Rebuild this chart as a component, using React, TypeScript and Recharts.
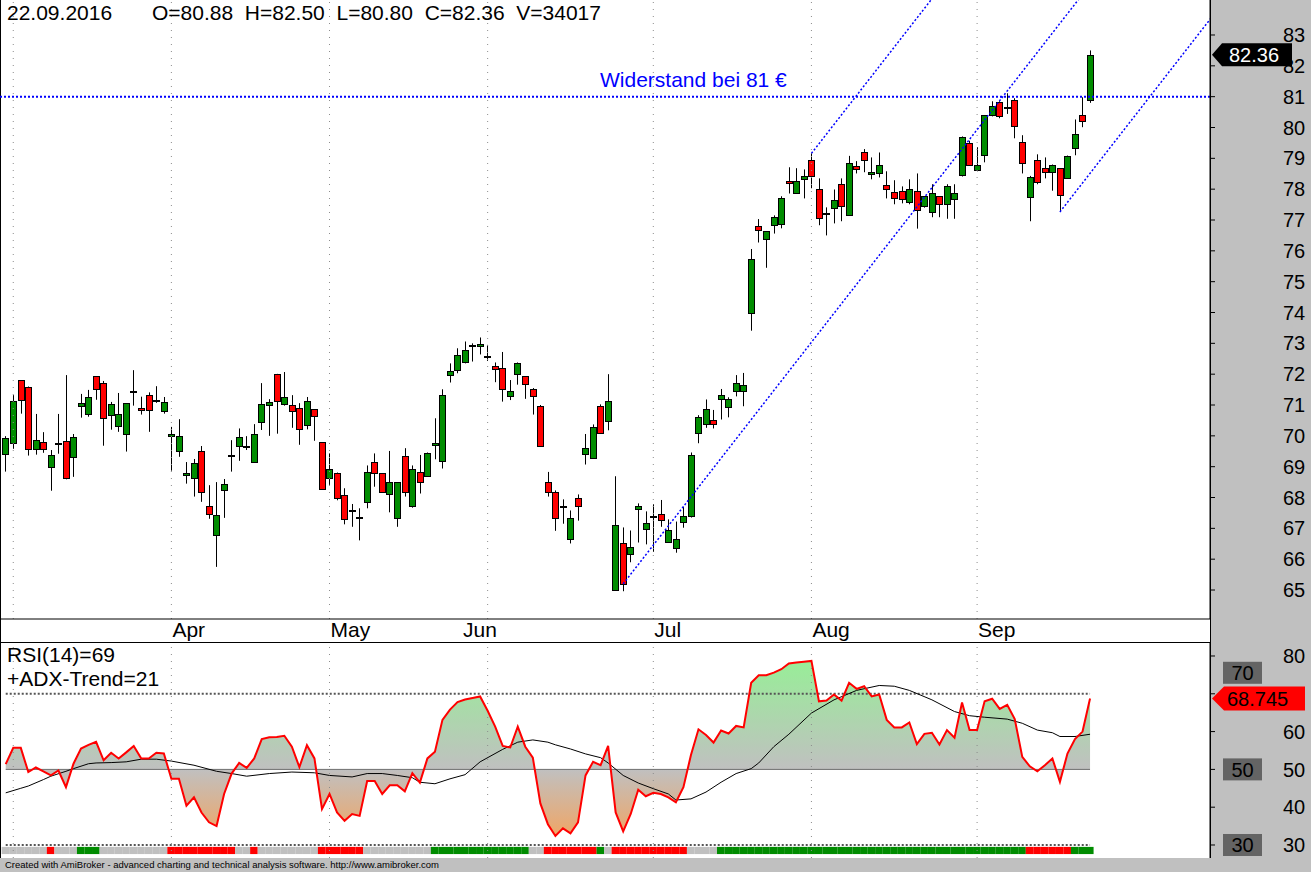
import React from "react";
import { Area, Bar, ComposedChart, Line, ReferenceLine, XAxis, YAxis } from "recharts";

const FONT = '"Liberation Sans", Arial, Helvetica, sans-serif';
const GREEN = "#008c00";
const RED = "#ff0000";
const BLUE = "#0000ff";

// daily bars 29.02.2016 .. 22.09.2016
const OPEN = [
  69.40, 69.76, 71.80, 71.60, 69.56, 69.79, 68.98, 69.77, 69.82, 69.30,
  70.96, 70.70, 71.93, 71.73, 70.66, 70.31, 70.05, 71.45, 70.89, 71.31,
  71.16, 70.79, 69.98, 69.50, 68.72, 68.62, 69.50, 67.71, 66.77, 68.23,
  69.36, 69.66, 69.67, 69.14, 70.44, 70.99, 71.99, 71.02, 70.99, 70.89,
  70.34, 70.86, 69.79, 68.62, 68.81, 68.07, 67.59, 67.37, 67.87, 69.14,
  68.78, 68.10, 67.32, 69.35, 67.73, 68.82, 68.69, 69.69, 69.17, 71.96,
  72.12, 72.41, 72.92, 72.90, 72.59, 72.26, 72.19, 71.30, 72.02, 71.93,
  71.51, 70.96, 68.49, 68.17, 67.74, 66.64, 68.00, 69.40, 69.27, 70.96,
  70.47, 64.99, 66.54, 66.16, 67.62, 66.97, 67.40, 67.45, 66.57, 66.35,
  67.21, 67.39, 70.08, 70.37, 70.50, 71.21, 70.92, 71.47, 71.47, 74.00,
  76.79, 76.37, 76.83, 76.86, 78.25, 77.86, 78.32, 78.93, 77.99, 77.21,
  77.38, 78.16, 77.15, 78.74, 79.19, 78.48, 78.51, 78.12, 77.90, 77.95,
  77.57, 77.93, 77.47, 77.25, 77.77, 77.51, 77.67, 78.47, 79.49, 78.61,
  79.10, 80.40, 80.82, 80.66, 80.88, 79.52, 77.74, 78.93, 78.68, 78.55,
  78.68, 78.35, 79.32, 80.40, 80.88,
];
const HIGH = [
  69.99, 71.32, 71.80, 71.60, 70.71, 70.12, 69.54, 70.71, 71.97, 70.06,
  71.36, 71.49, 71.93, 71.78, 71.10, 71.39, 71.05, 72.13, 71.27, 71.41,
  71.61, 71.26, 70.29, 70.54, 69.15, 69.25, 69.67, 68.40, 68.50, 68.60,
  69.86, 70.24, 69.99, 70.38, 71.71, 71.19, 72.01, 72.07, 71.32, 71.06,
  71.26, 70.86, 69.79, 69.43, 68.81, 68.30, 67.79, 67.65, 69.04, 69.43,
  68.78, 69.51, 68.49, 69.60, 69.04, 69.38, 69.46, 70.57, 71.51, 72.35,
  72.84, 73.06, 73.00, 73.19, 72.95, 72.38, 72.72, 71.81, 72.38, 71.93,
  71.55, 71.00, 68.83, 68.23, 67.94, 67.58, 68.10, 70.06, 70.37, 71.02,
  72.00, 68.69, 67.03, 66.93, 67.81, 67.55, 67.78, 67.92, 67.29, 67.22,
  67.70, 69.46, 70.67, 71.18, 70.84, 71.52, 71.25, 71.97, 72.04, 76.06,
  77.03, 76.63, 77.15, 77.77, 78.71, 78.68, 78.64, 79.16, 78.35, 77.41,
  77.99, 78.35, 79.08, 78.91, 79.30, 79.03, 79.19, 78.58, 78.29, 78.09,
  78.32, 78.51, 77.77, 78.16, 77.77, 78.16, 78.16, 79.71, 79.57, 79.36,
  80.40, 80.85, 80.85, 81.11, 80.95, 79.75, 78.43, 79.13, 79.03, 78.80,
  78.68, 79.09, 80.26, 80.98, 82.50,
];
const LOW = [
  68.84, 69.58, 70.72, 69.36, 69.39, 69.45, 68.22, 69.42, 68.59, 68.67,
  70.59, 70.62, 71.17, 69.68, 70.20, 70.13, 69.49, 70.98, 70.69, 70.13,
  71.07, 70.72, 68.87, 69.32, 68.45, 68.03, 67.86, 67.31, 65.75, 67.34,
  68.84, 69.19, 69.54, 69.14, 70.19, 70.00, 70.07, 70.98, 70.26, 69.71,
  70.21, 69.84, 68.25, 68.41, 67.91, 67.13, 67.05, 66.61, 67.65, 68.35,
  68.17, 67.52, 67.05, 68.03, 67.67, 68.13, 68.69, 69.24, 68.94, 71.73,
  72.03, 72.35, 72.41, 72.64, 72.43, 71.74, 71.11, 71.16, 71.66, 71.20,
  70.69, 69.66, 68.03, 66.92, 67.15, 66.51, 67.25, 69.07, 69.27, 70.08,
  70.18, 64.99, 64.96, 65.90, 66.54, 66.48, 66.24, 67.05, 66.53, 66.21,
  67.02, 67.35, 69.76, 70.26, 70.24, 70.53, 70.60, 71.28, 70.96, 73.41,
  76.27, 75.45, 76.56, 76.73, 77.86, 77.86, 77.70, 78.03, 76.83, 76.50,
  76.89, 76.96, 77.15, 78.51, 78.55, 78.32, 78.38, 77.70, 77.51, 77.54,
  77.51, 76.72, 77.40, 77.09, 77.09, 77.04, 77.04, 78.41, 78.77, 78.58,
  78.87, 80.36, 80.30, 80.44, 79.65, 78.51, 76.96, 78.16, 78.35, 77.95,
  77.26, 78.35, 79.10, 80.01, 80.80,
];
const CLOSE = [
  69.92, 71.12, 71.15, 69.56, 69.88, 69.56, 69.37, 69.78, 68.62, 69.95,
  71.05, 71.25, 71.51, 70.57, 71.02, 70.70, 71.05, 71.46, 70.83, 70.83,
  71.17, 71.09, 70.05, 70.00, 68.78, 69.11, 68.17, 67.47, 67.42, 68.43,
  69.37, 69.95, 69.68, 70.05, 71.02, 71.09, 71.12, 71.25, 70.79, 70.21,
  71.12, 70.63, 68.29, 68.91, 67.97, 67.29, 67.60, 67.38, 68.82, 68.78,
  68.17, 68.49, 68.49, 68.19, 68.94, 68.49, 69.43, 69.76, 71.31, 72.09,
  72.61, 72.77, 72.93, 72.97, 72.60, 72.16, 71.53, 71.47, 72.35, 71.69,
  71.30, 69.66, 68.17, 67.32, 67.68, 67.32, 67.74, 69.59, 70.28, 70.08,
  71.12, 67.10, 65.18, 66.38, 67.71, 67.16, 67.41, 67.26, 66.96, 66.67,
  67.39, 69.37, 70.60, 70.86, 70.40, 71.31, 71.18, 71.73, 71.64, 75.72,
  76.66, 76.63, 77.09, 77.70, 78.19, 78.25, 78.42, 78.43, 77.05, 77.22,
  77.64, 77.44, 78.84, 78.64, 78.93, 78.55, 78.77, 77.99, 77.70, 77.67,
  77.99, 77.31, 77.77, 77.86, 77.51, 78.09, 77.86, 79.68, 78.77, 78.80,
  80.40, 80.69, 80.36, 80.67, 80.04, 78.84, 78.40, 78.22, 78.55, 78.80,
  77.80, 79.06, 79.78, 80.20, 82.36,
];

// RSI(14) per bar
const RSI = [
  51.4, 55.7, 55.7, 49.3, 50.5, 49.5, 48.4, 49.7, 45.3, 51.5,
  55.5, 56.5, 57.3, 52.4, 54.4, 52.9, 54.5, 56.2, 52.9, 52.9,
  54.4, 54.2, 47.5, 47.5, 40.4, 42.6, 38.6, 36.0, 35.0, 43.5,
  48.9, 51.7, 50.4, 52.9, 58.0, 58.5, 58.6, 58.9, 56.0, 50.6,
  56.4, 52.9, 39.5, 43.5, 38.6, 36.4, 38.2, 37.7, 46.9, 46.9,
  43.5, 45.8, 45.8, 44.2, 49.0, 46.5, 52.9, 54.7, 63.1, 65.8,
  67.8, 68.5, 68.9, 69.3, 65.5, 61.3, 56.2, 55.8, 61.3, 56.0,
  53.1, 41.0, 35.5, 32.4, 34.4, 33.1, 36.0, 48.4, 52.0, 51.1,
  56.2, 38.6, 33.6, 38.2, 44.6, 42.9, 43.8, 43.5, 42.6, 41.3,
  45.3, 53.8, 60.6, 59.1, 57.1, 60.3, 59.5, 61.5, 61.1, 72.9,
  74.9, 74.9, 75.6, 76.5, 78.0, 78.3, 78.5, 78.7, 68.0, 68.2,
  69.8, 68.2, 72.9, 71.3, 72.0, 69.3, 69.8, 63.1, 61.1, 61.1,
  62.4, 56.7, 59.4, 59.7, 56.6, 60.4, 58.4, 67.7, 60.4, 60.4,
  68.0, 68.7, 66.0, 67.1, 63.3, 53.3, 50.8, 49.5, 51.1, 52.9,
  46.7, 54.2, 58.0, 60.0, 68.745,
];

// black smoothing line, read at these bars only
const TREND_BARS = [
  0, 2, 3, 5, 6, 8, 9, 11, 12, 14, 16, 18, 20, 22, 25, 28, 30, 32, 35, 38,
  41, 43, 46, 48, 50, 52, 54, 55, 57, 59, 61, 63, 66, 68, 70, 72, 73, 75, 77, 79,
  80, 82, 84, 86, 88, 89, 91, 93, 95, 97, 99, 100, 102, 104, 107, 110, 113, 116, 118, 120,
  123, 126, 128, 130, 133, 135, 137, 139, 140, 142, 144,
];
const TREND_VALUES = [
  43.8, 45.0, 45.6, 47.3, 48.2, 49.5, 50.2, 51.5, 51.7, 51.8, 52.0, 52.7, 52.7, 52.2, 51.1, 49.5, 48.9, 48.2, 48.9, 49.3,
  49.1, 48.4, 48.0, 48.9, 48.9, 48.4, 47.8, 46.6, 46.2, 47.5, 48.6, 52.0, 55.3, 57.2, 57.8, 57.2, 56.5, 55.4, 54.1, 53.1,
  51.7, 48.4, 46.4, 44.9, 43.5, 41.9, 42.2, 44.0, 46.6, 48.9, 50.2, 51.7, 56.0, 59.3, 64.9, 68.4, 70.9, 72.2, 72.0, 70.9,
  68.4, 65.3, 64.2, 63.8, 63.3, 62.2, 60.4, 59.7, 58.7, 58.7, 59.3,
];

// ADX trend state strip: g = up, r = down, n = none
const ADX_STATE = (
  "nnnnnnrnnnggg" + "nnnnnnnnn" + "rrrrrrrrr" + "nnr" + "nnnnnnnn" + "rrrrrr" +
  "nnnnnnnnn" + "ggggggggggggg" + "nn" + "rrrrrrr" + "gn" + "rrrrrrrrrr" + "nnnn" +
  "ggggggggggggggggggggggggggggggggggggggggg" + "rrrrrr" + "ggg"
).split("");
const ADX_COLORS: Record<string, string> = { g: "#008c00", r: "#ff0000", n: "#c0c0c0" };

const MONTH_NAMES = ["Apr", "May", "Jun", "Jul", "Aug", "Sep"];
const MONTH_TICKS = [22, 43, 60.6, 86, 107, 129];
const MONTH_STARTS = [1, 22, 43, 64, 86, 107, 129];
const PRICE_TICKS = [65, 66, 67, 68, 69, 70, 71, 72, 73, 74, 75, 76, 77, 78, 79, 80, 81, 82, 83];
const RSI_TICKS = [30, 40, 50, 60, 70, 80];

// hand-drawn channel: three parallel lines, start bar / start price
const CHANNEL_BAR = [82, 107, 140];
const CHANNEL_PRICE = [65.2, 79.16, 77.26];
const CHANNEL_SLOPE = 0.3134;
const CHANNEL_LEN = 80;
const RESISTANCE = 81;

const X_DOMAIN: [number, number] = [-0.76, 159.93];
const PRICE_DOMAIN: [number, number] = [64.06, 84.135];
const RSI_DOMAIN: [number, number] = [26.56, 83.7];
const RSI_H = 216;
const STRIP: [number, number] = [27.6, 29.5];

const trendAt = new Map(TREND_BARS.map((b, k) => [b, TREND_VALUES[k]]));
const rows = CLOSE.map((c, i) => ({
  i,
  o: OPEN[i],
  h: HIGH[i],
  l: LOW[i],
  c,
  range: [LOW[i], HIGH[i]],
  rsi: RSI[i],
  trend: trendAt.has(i) ? trendAt.get(i) : null,
  adx: ADX_STATE[i],
  strip: STRIP,
}));

function Candle(props: any) {
  const { x, y, width, height, payload } = props;
  const { o, h, l, c } = payload;
  const py = (v: number) => y + ((h - v) / (h - l)) * height;
  const cx = Math.floor(x + width / 2) + 0.5;
  const top = Math.round(py(Math.max(o, c))) + 0.5;
  const bot = Math.round(py(Math.min(o, c))) + 0.5;
  const fill = Math.abs(c - o) < 0.03 ? "#000" : c > o ? GREEN : RED;
  return (
    <g>
      <line x1={cx} x2={cx} y1={py(h)} y2={py(l)} stroke="#000" strokeWidth={1} />
      <rect x={cx - 3} y={top} width={6} height={Math.max(bot - top, 1)} fill={fill} stroke="#000" strokeWidth={1} />
    </g>
  );
}

function StripCell(props: any) {
  const cx = props.x + props.width / 2;
  return <rect x={cx - 3.8} y={props.y} width={7.6} height={props.height} fill={ADX_COLORS[props.payload.adx]} />;
}

function MonthTick(props: any) {
  const k = MONTH_TICKS.indexOf(props.payload.value);
  return (
    <text x={props.x + 1} y={props.y + 18} fontSize={21} fontFamily={FONT} fill="#000">
      {MONTH_NAMES[k]}
    </text>
  );
}

function RsiTick(props: any) {
  if (props.payload.value === 70) return null;
  return (
    <text x={props.x} y={props.y} dy="0.36em" fontSize={20} fontFamily={FONT} fill="#000">
      {props.payload.value}
    </text>
  );
}

function PriceTag(props: any) {
  const vb = props.viewBox || {};
  const x = vb.x + vb.width + 2;
  const y = vb.y;
  return (
    <g>
      <polygon points={`${x},${y} ${x + 10},${y - 11.5} ${x + 80},${y - 11.5} ${x + 80},${y + 11.5} ${x + 10},${y + 11.5}`} fill="#000" />
      <text x={x + 17} y={y} dy="0.36em" fontSize={20} fontFamily={FONT} fill="#fff">{props.text}</text>
    </g>
  );
}

function RsiTag(props: any) {
  const vb = props.viewBox || {};
  const x = vb.x + vb.width + 2;
  const y = vb.y;
  return (
    <g>
      <polygon points={`${x},${y} ${x + 12},${y - 12} ${x + 93},${y - 12} ${x + 93},${y + 12} ${x + 12},${y + 12}`} fill="#ff0000" />
      <text x={x + 15} y={y} dy="0.36em" fontSize={20} fontFamily={FONT} fill="#000">{props.text}</text>
    </g>
  );
}

function LevelBox(props: any) {
  const vb = props.viewBox || {};
  const x = vb.x + vb.width + 13;
  const y = vb.y - (props.lift || 0);
  return (
    <g>
      <rect x={x} y={y - 11} width={39} height={22} fill="#646464" />
      <text x={x + 19.5} y={y} dy="0.36em" textAnchor="middle" fontSize={20} fontFamily={FONT} fill="#000">{props.text}</text>
    </g>
  );
}

function Resistance(props: any) {
  const vb = props.viewBox || {};
  return (
    <text x={vb.x + 600} y={vb.y - 10} fontSize={21} fontFamily={FONT} fill={BLUE}>
      Widerstand bei 81 €
    </text>
  );
}

const rsiY = (v: number) => ((RSI_DOMAIN[1] - v) / (RSI_DOMAIN[1] - RSI_DOMAIN[0])) * RSI_H;
const last = rows.length - 1;

export default function App() {
  const box = (style: React.CSSProperties): React.CSSProperties => ({ position: "absolute", ...style });
  return (
    <div style={box({ left: 0, top: 0, width: 1311, height: 872, background: "#c0c0c0", overflow: "hidden", fontFamily: FONT })}>
      <div style={box({ left: 0, top: 0, width: 1210, height: 858, background: "#fff" })} />
      <div style={box({ left: 0, top: 0, width: 1, height: 858, background: "#000" })} />
      <div style={box({ left: 1210, top: 0, width: 1, height: 858, background: "#000" })} />
      <div style={box({ left: 0, top: 642, width: 1211, height: 1, background: "#000" })} />

      <div style={box({ left: 0, top: 0 })}>
        <ComposedChart width={1311} height={642} data={rows} margin={{ top: 0, right: 0, bottom: 0, left: 0 }}>
          <XAxis
            type="number"
            dataKey="i"
            domain={X_DOMAIN}
            allowDataOverflow
            ticks={MONTH_TICKS}
            interval={0}
            height={23}
            tickSize={0}
            tickMargin={0}
            tickLine={false}
            axisLine={{ stroke: "#000" }}
            tick={MonthTick}
          />
          <YAxis
            orientation="right"
            width={101}
            domain={PRICE_DOMAIN}
            allowDataOverflow
            ticks={PRICE_TICKS}
            interval={0}
            tickSize={5}
            tickMargin={68}
            axisLine={{ stroke: "#000" }}
            tickLine={{ stroke: "#000" }}
            tick={{ fontSize: 20, fill: "#000", fontFamily: FONT }}
          />
          {MONTH_STARTS.map((m) => (
            <ReferenceLine key={m} x={m} stroke="#8c8c8c" strokeDasharray="1 6" />
          ))}
          <Bar dataKey="range" barSize={6} shape={(p: any) => <Candle {...p} />} isAnimationActive={false} />
          <ReferenceLine
            y={RESISTANCE}
            stroke={BLUE}
            strokeWidth={2}
            strokeDasharray="2 2"
            label={(p: any) => <Resistance {...p} />}
          />
          {CHANNEL_BAR.map((b, k) => (
            <ReferenceLine
              key={b}
              ifOverflow="hidden"
              segment={[
                { x: b, y: CHANNEL_PRICE[k] },
                { x: b + CHANNEL_LEN, y: CHANNEL_PRICE[k] + CHANNEL_LEN * CHANNEL_SLOPE },
              ]}
              stroke={BLUE}
              strokeWidth={1.5}
              strokeDasharray="2 2"
            />
          ))}
          <ReferenceLine
            y={CLOSE[last]}
            stroke="none"
            label={(p: any) => <PriceTag {...p} text={CLOSE[last].toFixed(2)} />}
          />
        </ComposedChart>
      </div>

      <div style={box({ left: 0, top: 642 })}>
        <ComposedChart width={1311} height={RSI_H} data={rows} margin={{ top: 0, right: 0, bottom: 0, left: 0 }}>
          <defs>
            <linearGradient id="rsiFill" gradientUnits="userSpaceOnUse" x1="0" y1={rsiY(80)} x2="0" y2={rsiY(30)}>
              <stop offset="0" stopColor="#96f096" />
              <stop offset={(rsiY(50) - rsiY(80)) / (rsiY(30) - rsiY(80))} stopColor="#c0c0c0" />
              <stop offset="1" stopColor="#f6a25a" />
            </linearGradient>
          </defs>
          <XAxis type="number" dataKey="i" domain={X_DOMAIN} allowDataOverflow hide />
          <YAxis
            orientation="right"
            width={101}
            domain={RSI_DOMAIN}
            allowDataOverflow
            ticks={RSI_TICKS}
            interval={0}
            tickSize={5}
            tickMargin={68}
            axisLine={{ stroke: "#000" }}
            tickLine={{ stroke: "#000" }}
            tick={RsiTick}
          />
          {MONTH_STARTS.map((m) => (
            <ReferenceLine key={m} x={m} stroke="#8c8c8c" strokeDasharray="1 6" />
          ))}
          <Area dataKey="rsi" baseValue={50} type="linear" stroke="none" fill="url(#rsiFill)" fillOpacity={1} isAnimationActive={false} />
          <ReferenceLine segment={[{ x: 0, y: 70 }, { x: last, y: 70 }]} stroke="#555" strokeWidth={2} strokeDasharray="2 2" />
          <ReferenceLine segment={[{ x: 0, y: 30 }, { x: last, y: 30 }]} stroke="#555" strokeWidth={2} strokeDasharray="2 2" />
          <ReferenceLine segment={[{ x: 0, y: 50 }, { x: last, y: 50 }]} stroke="#6e6e6e" strokeWidth={1} />
          <Line dataKey="trend" type="linear" stroke="#000" strokeWidth={1} dot={false} connectNulls isAnimationActive={false} />
          <Line dataKey="rsi" type="linear" stroke={RED} strokeWidth={2} dot={false} isAnimationActive={false} />
          <Bar dataKey="strip" barSize={7} shape={(p: any) => <StripCell {...p} />} isAnimationActive={false} />
          <ReferenceLine y={70} stroke="none" label={(p: any) => <LevelBox {...p} text="70" lift={21} />} />
          <ReferenceLine y={50} stroke="none" label={(p: any) => <LevelBox {...p} text="50" />} />
          <ReferenceLine y={30} stroke="none" label={(p: any) => <LevelBox {...p} text="30" />} />
          <ReferenceLine y={RSI[last]} stroke="none" label={(p: any) => <RsiTag {...p} text={RSI[last].toFixed(3)} />} />
        </ComposedChart>
      </div>

      <div style={box({ left: 7, top: 2, fontSize: 21, lineHeight: "21px", whiteSpace: "pre" })}>22.09.2016</div>
      <div style={box({ left: 152, top: 2, fontSize: 21, lineHeight: "21px", whiteSpace: "pre" })}>
        {`O=${OPEN[last].toFixed(2)}  H=${HIGH[last].toFixed(2)}  L=${LOW[last].toFixed(2)}  C=${CLOSE[last].toFixed(2)}  V=34017`}
      </div>
      <div style={box({ left: 7, top: 644, fontSize: 21, lineHeight: "21px" })}>RSI(14)={Math.round(RSI[last])}</div>
      <div style={box({ left: 7, top: 668, fontSize: 21, lineHeight: "21px" })}>+ADX-Trend=21</div>
      <div style={box({ left: 5, top: 859, fontSize: 9.5, lineHeight: "12px" })}>
        Created with AmiBroker - advanced charting and technical analysis software. http://www.amibroker.com
      </div>
    </div>
  );
}
